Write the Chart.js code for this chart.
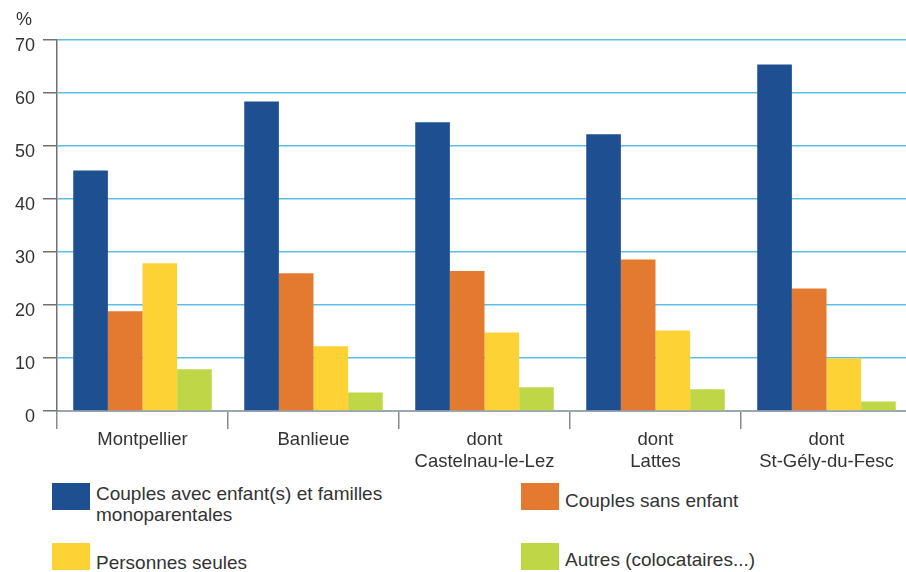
<!DOCTYPE html>
<html>
<head>
<meta charset="utf-8">
<script src="https://cdn.jsdelivr.net/npm/chart.js@4/dist/chart.umd.min.js"></script>
<style>
  html, body { margin: 0; padding: 0; background: #fff; overflow: hidden; }
  body { width: 906px; height: 572px; position: relative; font-family: "Liberation Sans", Arial, sans-serif; color: #333; }
  #wrap { position: absolute; left: 0; top: 0; width: 912px; height: 470px; }
  #unit { position: absolute; left: 16px; top: 9px; font-size: 18px; }
  .leg { position: absolute; font-size: 19px; line-height: 21px; }
  .leg i { position: absolute; left: 0; top: 0; width: 38px; height: 27px; }
  .leg span { position: absolute; left: 44px; white-space: nowrap; }
</style>
</head>
<body>
<div id="wrap"><canvas id="c" width="912" height="470"></canvas></div>
<div id="unit">%</div>
<div id="legend"></div>
<script>
// values
const categories = [
  'Montpellier',
  'Banlieue',
  ['dont', 'Castelnau-le-Lez'],
  ['dont', 'Lattes'],
  ['dont', 'St-Gély-du-Fesc']
];
const seriesNames = [
  'Couples avec enfant(s) et familles monoparentales',
  'Couples sans enfant',
  'Personnes seules',
  'Autres (colocataires...)'
];
const couplesAvecEnfants = [45.4, 58.4, 54.5, 52.2, 65.4];
const couplesSansEnfant = [18.8, 26.0, 26.4, 28.6, 23.1];
const personnesSeules = [27.9, 12.2, 14.8, 15.2, 9.9];
const autres = [7.9, 3.5, 4.5, 4.1, 1.8];
const colors = ['#1e4f90', '#e37a2f', '#fdd234', '#bfd747'];

const seriesValues = [couplesAvecEnfants, couplesSansEnfant, personnesSeules, autres];

new Chart(document.getElementById('c'), {
  type: 'bar',
  data: {
    labels: categories,
    datasets: seriesValues.map((vals, i) => ({
      label: seriesNames[i],
      data: vals,
      backgroundColor: colors[i],
      borderWidth: 0,
      categoryPercentage: 0.81,
      barPercentage: 1.0
    }))
  },
  options: {
    responsive: false,
    animation: false,
    layout: { padding: { top: 40, left: 0, right: 0, bottom: 0 } },
    plugins: { legend: { display: false }, tooltip: { enabled: false } },
    scales: {
      x: {
        afterFit: (s) => { s.height = 59; },
        grid: { drawOnChartArea: false, tickLength: 18, tickColor: '#8a8a8a', lineWidth: 1.5 },
        border: { color: '#9aa6b2', width: 2 },
        ticks: {
          color: '#333',
          padding: 0,
          maxRotation: 0,
          font: { family: '"Liberation Sans", Arial, sans-serif', size: 18.5, lineHeight: 1.2 }
        }
      },
      y: {
        min: 0,
        max: 70,
        afterFit: (s) => { s.width = 57; },
        grid: {
          color: (ctx) => ctx.tick && ctx.tick.value === 0 ? '#9aa6b2' : '#5bbfea',
          lineWidth: 1.5,
          tickLength: 14,
          tickColor: '#707070'
        },
        border: { color: '#707070', width: 1.5 },
        ticks: {
          stepSize: 10,
          color: '#333',
          padding: 8,
          labelOffset: 6,
          font: { family: '"Liberation Sans", Arial, sans-serif', size: 18 }
        }
      }
    }
  }
});

// legend in two columns, as in the reference
const legendPos = [[52, 483], [521, 483], [52, 543], [521, 543]];
const textTop = [0, 7, 9, 6];
const legend = document.getElementById('legend');
seriesNames.forEach((name, i) => {
  const d = document.createElement('div');
  d.className = 'leg';
  d.style.left = legendPos[i][0] + 'px';
  d.style.top = legendPos[i][1] + 'px';
  const box = document.createElement('i');
  box.style.background = colors[i];
  const t = document.createElement('span');
  t.style.top = textTop[i] + 'px';
  if (i === 0) {
    t.innerHTML = 'Couples avec enfant(s) et familles<br>monoparentales';
  } else {
    t.textContent = name;
  }
  d.appendChild(box);
  d.appendChild(t);
  legend.appendChild(d);
});
</script>
</body>
</html>
